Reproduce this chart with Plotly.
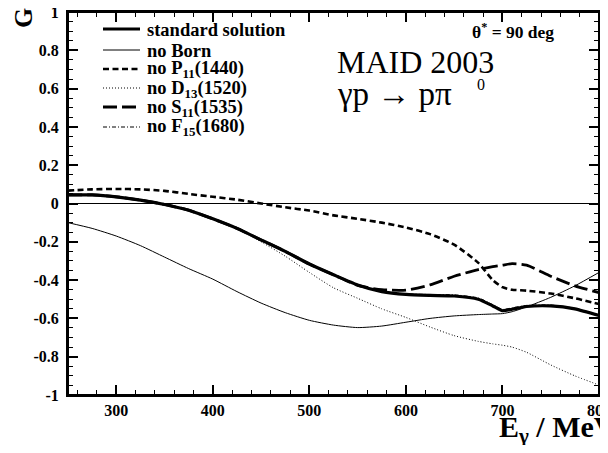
import plotly.graph_objects as go

# ---------------- data ----------------
E = [250, 275, 300, 325, 350, 375, 400, 425, 450, 475, 500, 525, 550, 575,
     600, 625, 650, 675, 690, 700, 710, 725, 750, 775, 800]

standard = [0.045, 0.045, 0.035, 0.018, -0.005, -0.035, -0.08, -0.13, -0.19,
            -0.25, -0.316, -0.372, -0.425, -0.46, -0.475, -0.48, -0.483,
            -0.50, -0.535, -0.56, -0.552, -0.538, -0.535, -0.55, -0.585]

no_born = [-0.10, -0.13, -0.17, -0.22, -0.28, -0.34, -0.395, -0.46, -0.52,
           -0.57, -0.61, -0.635, -0.648, -0.64, -0.62, -0.60, -0.587,
           -0.58, -0.577, -0.575, -0.565, -0.54, -0.49, -0.43, -0.36]

no_p11 = [0.067, 0.074, 0.076, 0.074, 0.066, 0.05, 0.035, 0.02, 0.0, -0.02,
          -0.037, -0.062, -0.08, -0.10, -0.125, -0.16, -0.215, -0.31, -0.40,
          -0.437, -0.45, -0.455, -0.47, -0.495, -0.525]

no_d13 = [0.045, 0.045, 0.035, 0.018, -0.005, -0.035, -0.08, -0.132, -0.20,
          -0.275, -0.36, -0.44, -0.495, -0.55, -0.595, -0.645, -0.69, -0.72,
          -0.733, -0.74, -0.75, -0.777, -0.843, -0.90, -0.948]

no_s11 = [0.045, 0.045, 0.035, 0.018, -0.005, -0.035, -0.08, -0.13, -0.19,
          -0.25, -0.316, -0.372, -0.428, -0.45, -0.452, -0.425, -0.38,
          -0.345, -0.33, -0.322, -0.314, -0.322, -0.38, -0.43, -0.465]

no_f15 = [0.045, 0.045, 0.035, 0.018, -0.005, -0.035, -0.08, -0.13, -0.19,
          -0.25, -0.316, -0.372, -0.425, -0.458, -0.472, -0.475, -0.477,
          -0.493, -0.528, -0.553, -0.545, -0.532, -0.53, -0.547, -0.583]

x_ticks = [300, 400, 500, 600, 700, 800]
x_tick_text = ["300", "400", "500", "600", "700", "800"]
y_ticks = [-1, -0.8, -0.6, -0.4, -0.2, 0, 0.2, 0.4, 0.6, 0.8, 1]
y_tick_text = ["-1", "-0.8", "-0.6", "-0.4", "-0.2", "0", "0.2", "0.4",
               "0.6", "0.8", "1"]

legend_labels = ["standard solution", "no Born", "no P<sub>11</sub>(1440)",
                 "no D<sub>13</sub>(1520)", "no S<sub>11</sub>(1535)",
                 "no F<sub>15</sub>(1680)"]

# ---------------- layout geometry ----------------
FONT = "Liberation Serif"
OFF = 8                       # page body margin
W, H = 608 - 2 * OFF, 453 - 2 * OFF   # fit inside the window, no scrollbars
# plot area in window pixels: x 68..599, y 12..395
ML, MT = 68 - OFF, 12 - OFF
MR = (W + OFF) - 599
MB = (H + OFF) - 395
PW, PH = W - ML - MR, H - MT - MB


def px(xs):
    return (xs - OFF - ML) / PW


def py(ys):
    return (H - MB - (ys - OFF)) / PH


styles = [
    dict(width=3.2, dash="solid"),
    dict(width=1, dash="solid"),
    dict(width=2.6, dash="6px,3.5px"),
    dict(width=1, dash="1px,2px"),
    dict(width=2.8, dash="14px,5px"),
    dict(width=1, dash="4px,2px,1px,2px"),
]
series = [standard, no_born, no_p11, no_d13, no_s11, no_f15]

fig = go.Figure()
order = [1, 3, 2, 4, 0, 5]
for i in order:
    fig.add_trace(go.Scatter(
        x=E, y=series[i], mode="lines",
        line=dict(color="black", width=styles[i]["width"],
                  dash=styles[i]["dash"], shape="spline", smoothing=0.6),
        showlegend=False, hoverinfo="skip"))

# invisible carrier so the top/right tick axes are drawn
fig.add_trace(go.Scatter(x=E, y=standard, xaxis="x2", yaxis="y2",
                         mode="lines", line=dict(width=0),
                         opacity=0, showlegend=False, hoverinfo="skip"))


def note(xs, ys, text, size, xanchor="center", angle=0):
    return dict(xref="paper", yref="paper", x=px(xs), y=py(ys),
                xanchor=xanchor, yanchor="middle", text=text,
                textangle=angle, showarrow=False,
                font=dict(family=FONT, size=size, color="black"))


# manual legend
shapes = [dict(type="rect", xref="paper", yref="paper", x0=0, x1=1,
               y0=0, y1=1, line=dict(color="black", width=2), layer="above")]
annotations = []
rows = [29, 50, 69, 88, 107, 127]
for i, (lab, yy) in enumerate(zip(legend_labels, rows)):
    shapes.append(dict(type="line", xref="paper", yref="paper",
                       x0=px(103), x1=px(140), y0=py(yy), y1=py(yy),
                       line=dict(color="black", width=styles[i]["width"],
                                 dash=styles[i]["dash"])))
    annotations.append(note(145, yy + 1, "<b>" + lab + "</b>", 18.5,
                            xanchor="left"))

annotations += [
    note(24, 18, "<b>G</b>", 26, angle=-90),
    note(513, 31, "<b>θ<sup>*</sup> = 90 deg</b>", 17.5),
    note(335, 62, "MAID 2003", 32, xanchor="left"),
    note(335, 94, "γp → pπ", 33, xanchor="left"),
    note(481, 85, "0", 16),
    note(497, 429, "<b>E<sub>γ</sub> / MeV</b>", 30, xanchor="left"),
]

tick_common = dict(ticks="inside", ticklen=10, tickwidth=1.5,
                   tickcolor="black", showgrid=False, automargin=False,
                   showline=True, linewidth=2, linecolor="black")

fig.update_layout(
    width=W, height=H,
    margin=dict(l=ML, r=MR, t=MT, b=MB, autoexpand=False),
    paper_bgcolor="white", plot_bgcolor="white",
    shapes=shapes, annotations=annotations,
    showlegend=False,
    xaxis=dict(
        range=[250, 800], tickvals=x_ticks, ticktext=x_tick_text,
        minor=dict(dtick=20, tick0=0, ticks="inside", ticklen=5,
                   tickwidth=1.2, tickcolor="black"),
        zeroline=False, ticklabeloverflow="allow",
        tickfont=dict(family=FONT, size=16, color="black", weight="bold"),
        **tick_common),
    yaxis=dict(
        range=[-1, 1], tickvals=y_ticks, ticktext=y_tick_text,
        minor=dict(dtick=0.05, tick0=0, ticks="inside", ticklen=5,
                   tickwidth=1.2, tickcolor="black"),
        zeroline=True, zerolinecolor="black", zerolinewidth=1,
        ticklabelstandoff=4, ticklabeloverflow="allow",
        tickfont=dict(family=FONT, size=16, color="black", weight="bold"),
        **tick_common),
    xaxis2=dict(
        overlaying="x", side="top", range=[250, 800], tickvals=x_ticks,
        showticklabels=False, zeroline=False,
        minor=dict(dtick=20, tick0=0, ticks="inside", ticklen=5,
                   tickwidth=1.2, tickcolor="black"),
        **tick_common),
    yaxis2=dict(
        overlaying="y", side="right", range=[-1, 1], tickvals=y_ticks,
        showticklabels=False, zeroline=False,
        minor=dict(dtick=0.05, tick0=0, ticks="inside", ticklen=5,
                   tickwidth=1.2, tickcolor="black"),
        **tick_common),
)

fig.write_html("out.html")
